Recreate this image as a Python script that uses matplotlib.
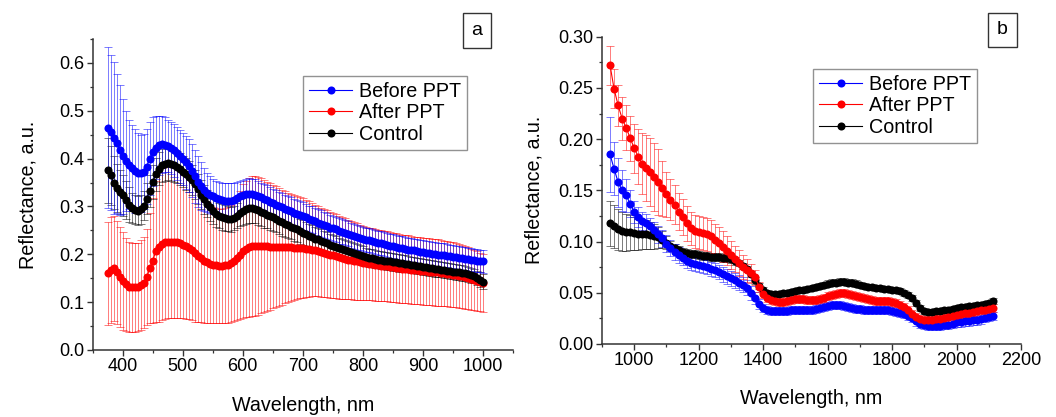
import numpy as np
import matplotlib
matplotlib.use("Agg")
import matplotlib.pyplot as plt
from matplotlib.ticker import MultipleLocator
from matplotlib.patches import Rectangle

plt.rcParams['font.family'] = ['Liberation Sans', 'DejaVu Sans']

# ---------------- Panel a (VIS) ----------------
wl_a = np.arange(375, 1001, 5)

before_a = [
    .465, .455, .443, .432, .418, .405, .395, .387, .380, .374,
    .370, .369, .373, .383, .400, .414, .423, .428, .430, .429,
    .426, .422, .417, .411, .405, .399, .392, .385, .375, .363,
    .352, .342, .335, .329, .325, .321, .318, .316, .314, .312,
    .311, .311, .313, .317, .321, .324, .326, .327, .326, .325,
    .322, .319, .316, .313, .310, .307, .304, .301, .298, .295,
    .292, .290, .287, .285, .282, .280, .277, .274, .272, .269,
    .266, .264, .261, .259, .256, .254, .252, .249, .247, .245,
    .243, .240, .238, .236, .234, .232, .230, .229, .227, .226,
    .224, .223, .221, .220, .218, .217, .216, .214, .213, .212,
    .210, .209, .208, .206, .205, .204, .203, .202, .201, .200,
    .199, .198, .198, .197, .196, .195, .194, .193, .192, .191,
    .190, .189, .188, .187, .186, .185]
before_a_err = [
    .168, .162, .158, .145, .135, .120, .105, .093, .090, .088,
    .083, .080, .078, .078, .076, .072, .066, .062, .060, .057,
    .055, .055, .055, .055, .055, .055, .055, .055, .056, .056,
    .053, .050, .045, .041, .038, .036, .035, .035, .036, .037,
    .038, .038, .036, .034, .033, .032, .032, .032, .032, .032,
    .032, .031, .031, .031, .031, .030, .030, .030, .030, .030,
    .030, .029, .029, .029, .029, .029, .028, .028, .028, .028,
    .028, .028, .027, .027, .027, .027, .027, .027, .026, .026,
    .026, .026, .026, .026, .026, .026, .026, .025, .025, .025,
    .025, .025, .025, .025, .025, .025, .025, .025, .025, .025,
    .025, .025, .025, .025, .025, .025, .025, .025, .025, .025,
    .025, .025, .025, .024, .024, .024, .024, .024, .024, .024,
    .024, .024, .024, .024, .024, .024]

after_a = [
    .160, .167, .171, .162, .153, .144, .137, .132, .131, .131,
    .132, .136, .141, .152, .171, .187, .206, .216, .222, .225,
    .226, .226, .226, .225, .223, .220, .217, .213, .208, .202,
    .197, .192, .187, .183, .180, .178, .177, .176, .176, .177,
    .178, .181, .186, .192, .199, .206, .211, .215, .217, .218,
    .218, .218, .217, .217, .216, .216, .216, .215, .215, .215,
    .215, .215, .214, .214, .214, .213, .212, .211, .210, .208,
    .206, .204, .203, .201, .199, .198, .196, .194, .192, .191,
    .189, .188, .186, .185, .183, .182, .181, .180, .179, .178,
    .177, .176, .175, .175, .174, .173, .172, .171, .170, .169,
    .169, .168, .167, .167, .166, .165, .165, .164, .163, .162,
    .162, .161, .160, .159, .158, .157, .156, .155, .154, .152,
    .150, .148, .146, .144, .142, .140]
after_a_err = [
    .108, .110, .110, .108, .104, .102, .098, .094, .093, .093,
    .092, .094, .095, .100, .115, .131, .147, .157, .159, .160,
    .160, .160, .159, .158, .156, .154, .152, .149, .146, .143,
    .139, .134, .130, .126, .123, .121, .120, .119, .119, .120,
    .121, .123, .126, .130, .134, .140, .143, .145, .146, .146,
    .144, .141, .138, .135, .132, .129, .126, .123, .120, .117,
    .114, .112, .110, .108, .106, .104, .102, .100, .098, .096,
    .094, .093, .092, .091, .090, .089, .088, .087, .086, .085,
    .083, .082, .081, .080, .079, .078, .077, .076, .075, .075,
    .074, .074, .073, .073, .073, .072, .072, .072, .071, .071,
    .071, .071, .070, .070, .070, .070, .070, .070, .069, .069,
    .069, .069, .068, .068, .068, .068, .067, .067, .066, .066,
    .065, .064, .063, .062, .061, .060]

control_a = [
    .376, .365, .350, .338, .330, .323, .314, .304, .297, .293,
    .291, .294, .302, .316, .332, .351, .367, .379, .386, .389,
    .390, .389, .386, .382, .378, .373, .368, .362, .355, .346,
    .336, .325, .315, .306, .298, .291, .285, .281, .278, .276,
    .274, .273, .276, .281, .287, .291, .294, .296, .296, .295,
    .292, .289, .286, .283, .280, .277, .274, .270, .267, .264,
    .261, .258, .255, .252, .248, .245, .242, .239, .236, .233,
    .231, .228, .225, .223, .220, .218, .216, .213, .211, .209,
    .207, .205, .203, .201, .199, .197, .195, .193, .192, .190,
    .189, .188, .187, .186, .185, .184, .183, .182, .181, .180,
    .179, .178, .177, .176, .175, .174, .173, .172, .171, .170,
    .169, .168, .167, .166, .165, .164, .163, .162, .161, .160,
    .158, .156, .154, .151, .147, .143]
control_a_err = [
    .068, .062, .055, .050, .046, .043, .040, .036, .032, .030,
    .030, .030, .031, .032, .034, .035, .035, .035, .035, .035,
    .035, .035, .035, .034, .034, .033, .033, .032, .032, .031,
    .031, .030, .030, .029, .029, .028, .028, .027, .027, .027,
    .026, .026, .026, .027, .028, .029, .030, .030, .030, .030,
    .030, .030, .030, .029, .029, .029, .028, .028, .028, .028,
    .027, .027, .027, .026, .026, .026, .025, .025, .025, .024,
    .024, .024, .023, .023, .023, .022, .022, .022, .021, .021,
    .021, .021, .020, .020, .020, .020, .019, .019, .019, .019,
    .018, .018, .018, .018, .018, .018, .018, .018, .018, .018,
    .017, .017, .017, .017, .017, .017, .017, .017, .017, .017,
    .016, .016, .016, .016, .016, .016, .016, .016, .016, .016,
    .015, .015, .015, .015, .015, .015]

# ---------------- Panel b (NIR) ----------------
wl_b = np.arange(925, 2113, 12.5)

before_b = [
    .185, .171, .158, .150, .145, .137, .129, .124,
    .120, .118, .115, .111, .107, .103, .098, .094,
    .090, .087, .084, .081, .079, .078, .077, .076,
    .075, .073, .072, .070, .068, .066, .064, .062,
    .060, .058, .055, .050, .045, .039, .035, .033,
    .032, .032, .032, .032, .032, .033, .033, .033,
    .033, .033, .033, .034, .035, .036, .037, .038,
    .038, .038, .037, .036, .035, .034, .034, .033,
    .033, .033, .033, .033, .033, .033, .032, .031,
    .030, .029, .027, .025, .022, .020, .019, .018,
    .018, .018, .018, .019, .019, .020, .021, .021,
    .022, .022, .023, .023, .024, .025, .026, .027]
before_b_err = [
    .037, .026, .024, .020, .016, .013, .011, .010,
    .009, .009, .008, .008, .008, .008, .008, .008,
    .008, .008, .007, .007, .007, .007, .007, .007,
    .007, .007, .007, .007, .007, .007, .007, .007,
    .007, .007, .007, .007, .006, .005, .004, .004,
    .004, .004, .004, .004, .004, .004, .004, .004,
    .004, .004, .004, .004, .004, .004, .004, .004,
    .004, .004, .004, .004, .004, .004, .004, .004,
    .004, .004, .004, .004, .004, .004, .004, .004,
    .004, .004, .004, .004, .004, .004, .004, .004,
    .004, .004, .004, .004, .004, .004, .004, .004,
    .004, .004, .004, .004, .004, .004, .004, .004]

after_b = [
    .272, .249, .233, .220, .211, .201, .191, .183,
    .176, .172, .168, .163, .158, .152, .146, .141,
    .136, .129, .124, .118, .113, .110, .109, .108,
    .107, .105, .102, .099, .095, .091, .087, .083,
    .079, .075, .072, .069, .065, .056, .049, .045,
    .043, .042, .041, .041, .042, .043, .044, .044,
    .044, .043, .043, .043, .044, .045, .047, .048,
    .049, .050, .050, .049, .048, .047, .046, .045,
    .044, .043, .042, .042, .042, .042, .041, .040,
    .038, .036, .033, .029, .026, .024, .023, .023,
    .023, .024, .024, .025, .026, .027, .028, .029,
    .030, .030, .031, .032, .033, .033, .034, .035]
after_b_err = [
    .019, .019, .020, .021, .022, .022, .024, .027,
    .030, .032, .033, .033, .032, .027, .022, .020,
    .019, .018, .018, .017, .016, .016, .016, .016,
    .016, .016, .015, .015, .015, .014, .014, .013,
    .013, .012, .011, .009, .007, .005, .004, .004,
    .004, .004, .004, .004, .004, .004, .004, .004,
    .004, .004, .004, .004, .004, .004, .004, .004,
    .004, .004, .004, .004, .004, .004, .004, .004,
    .004, .004, .004, .004, .004, .004, .004, .004,
    .004, .004, .004, .004, .004, .004, .004, .004,
    .004, .004, .004, .004, .004, .004, .004, .004,
    .004, .004, .004, .004, .004, .004, .004, .004]

control_b = [
    .118, .115, .112, .110, .109, .109, .108, .107,
    .107, .107, .106, .105, .104, .102, .099, .096,
    .094, .092, .090, .089, .088, .088, .087, .086,
    .086, .085, .085, .085, .084, .084, .083, .081,
    .079, .076, .073, .068, .062, .057, .053, .050,
    .049, .049, .049, .050, .050, .051, .052, .053,
    .053, .054, .055, .056, .057, .058, .059, .060,
    .060, .061, .061, .060, .060, .059, .058, .057,
    .056, .056, .055, .055, .054, .054, .053, .053,
    .052, .050, .048, .045, .040, .035, .032, .031,
    .031, .032, .032, .033, .033, .034, .035, .036,
    .036, .037, .037, .038, .038, .039, .040, .042]
control_b_err = [
    .022, .021, .020, .019, .018, .017, .016, .015,
    .014, .014, .013, .012, .010, .008, .006, .005,
    .004, .004, .004, .004, .004, .004, .004, .004,
    .004, .004, .004, .004, .004, .004, .004, .004,
    .003, .003, .003, .003, .003, .003, .003, .003,
    .003, .003, .003, .003, .003, .003, .003, .003,
    .003, .003, .003, .003, .003, .003, .003, .003,
    .003, .003, .003, .003, .003, .003, .003, .003,
    .003, .003, .003, .003, .003, .003, .003, .003,
    .003, .003, .003, .003, .003, .003, .003, .003,
    .003, .003, .003, .003, .003, .003, .003, .003,
    .003, .003, .003, .003, .003, .003, .003, .003]

labels = ["Before PPT", "After PPT", "Control"]
colors = ["#0000ff", "#ff0000", "#000000"]

W, H = 1056, 417
fig = plt.figure(figsize=(W / 100, H / 100), dpi=100)


def px_axes(x0, y0, x1, y1):
    return fig.add_axes([x0 / W, 1 - y1 / H, (x1 - x0) / W, (y1 - y0) / H])


def style_axes(ax):
    for s in ("top", "right"):
        ax.spines[s].set_visible(False)
    for s in ("left", "bottom"):
        ax.spines[s].set_color("#333333")
        ax.spines[s].set_linewidth(1.1)
    ax.tick_params(which="major", direction="out", length=4, width=1.0,
                   color="#333333", labelsize=13, pad=2)
    ax.tick_params(which="minor", direction="out", length=2.5, width=0.9,
                   color="#333333")


def draw(ax, x, ys, errs, order):
    handles = {}
    for i in order:
        ax.errorbar(x, ys[i], yerr=errs[i], fmt="none", ecolor=colors[i],
                    elinewidth=0.6, capsize=3, capthick=0.6, alpha=0.6,
                    zorder=1 + order.index(i) * 0.1)
    for k, i in enumerate(order):
        h, = ax.plot(x, ys[i], "-o", color=colors[i], lw=0.8, ms=5.8,
                     mec=colors[i], mew=0, zorder=3 + k, label=labels[i])
        handles[i] = h
    return [handles[0], handles[1], handles[2]]


def box_label(text, x0, y0, x1, y1):
    fig.patches.append(Rectangle((x0 / W, 1 - y1 / H), (x1 - x0) / W,
                                 (y1 - y0) / H, transform=fig.transFigure,
                                 fill=False, edgecolor="#333333", lw=1.0))
    fig.text((x0 + x1) / 2 / W, 1 - (y0 + y1) / 2 / H, text, ha="center",
             va="center", fontsize=14)


# ---- panel a ----
axa = px_axes(92.7, 39, 513, 350)
hs = draw(axa, wl_a, [before_a, after_a, control_a],
          [before_a_err, after_a_err, control_a_err], [1, 2, 0])
axa.set_xlim(350, 1050)
axa.set_ylim(0, 0.65)
axa.xaxis.set_major_locator(MultipleLocator(100))
axa.xaxis.set_minor_locator(MultipleLocator(50))
axa.yaxis.set_major_locator(MultipleLocator(0.1))
axa.yaxis.set_minor_locator(MultipleLocator(0.05))
style_axes(axa)
axa.set_xlabel("Wavelength, nm", fontsize=14.2, labelpad=15)
axa.set_ylabel("Reflectance, a.u.", fontsize=14.2, labelpad=16)
leg = axa.legend(hs, labels, loc="upper left",
                 bbox_to_anchor=(303 / W, 1 - 76 / H),
                 bbox_transform=fig.transFigure, fontsize=14.2,
                 frameon=True, fancybox=False, borderaxespad=0,
                 handlelength=2.2, handletextpad=0.35, labelspacing=0.12,
                 borderpad=0.3)
leg.get_frame().set_edgecolor("#777777")
leg.get_frame().set_linewidth(1.0)
box_label("a", 463, 13, 491, 48)

# ---- panel b ----
axb = px_axes(602, 36.7, 1021, 344)
hs = draw(axb, wl_b, [before_b, after_b, control_b],
          [before_b_err, after_b_err, control_b_err], [2, 0, 1])
axb.set_xlim(900, 2200)
axb.set_ylim(0, 0.30)
axb.xaxis.set_major_locator(MultipleLocator(200))
axb.xaxis.set_minor_locator(MultipleLocator(100))
axb.yaxis.set_major_locator(MultipleLocator(0.05))
axb.yaxis.set_minor_locator(MultipleLocator(0.025))
style_axes(axb)
axb.set_xlabel("Wavelength, nm", fontsize=14.2, labelpad=14)
axb.set_ylabel("Reflectance, a.u.", fontsize=14.2, labelpad=10.5)
leg = axb.legend(hs, labels, loc="upper left",
                 bbox_to_anchor=(813 / W, 1 - 69 / H),
                 bbox_transform=fig.transFigure, fontsize=14.2,
                 frameon=True, fancybox=False, borderaxespad=0,
                 handlelength=2.2, handletextpad=0.35, labelspacing=0.12,
                 borderpad=0.3)
leg.get_frame().set_edgecolor("#777777")
leg.get_frame().set_linewidth(1.0)
box_label("b", 988, 13, 1017, 47)

fig.savefig("out.png", dpi=100)
